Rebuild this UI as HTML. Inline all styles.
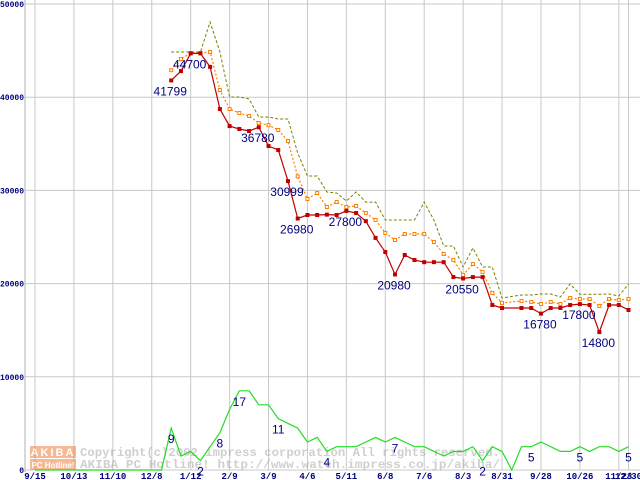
<!DOCTYPE html>
<html><head><meta charset="utf-8"><style>
html,body{margin:0;padding:0;background:#fff;}
svg{display:block;}
</style></head><body>
<svg id="chart" width="640" height="480" xmlns="http://www.w3.org/2000/svg" font-family="Liberation Sans, sans-serif"></svg>
<script>
const yTicks = [0,10000,20000,30000,40000,50000];
const xTickIdx = [0,4,8,12,16,20,24,28,32,36,40,44,48,52,56,60,61];
const xTickLabels = ["9/15","10/13","11/10","12/8","1/12","2/9","3/9","4/6","5/11","6/8","7/6","8/3","8/31","9/28","10/26","11/23","12/30"];
const N = 62;
const startIdx = 14;
const priceMin = [41799,42800,44700,44700,43250,38730,36900,36590,36370,36780,34760,34330,30999,26980,27360,27360,27400,27360,27800,27570,26700,24900,23390,20980,23070,22530,22300,22300,22300,20700,20550,20700,20700,17700,17380,null,17380,17380,16780,17380,17380,17700,17800,17700,14800,17700,17700,17170];
const priceAvg = [42900,44100,44740,44740,44850,40770,38730,38300,37980,37230,37000,36480,35300,31500,29080,29720,28220,28750,28220,28330,27570,26820,25430,24680,25320,25320,25320,24460,23180,22530,20920,22100,21240,18990,17920,null,18130,18030,17810,18030,17810,18450,18350,18350,17600,18350,18240,18350];
const priceMax = [44850,44850,44850,44850,48070,44850,40020,40020,39810,37880,37880,37660,37660,34010,31550,31550,29830,29720,28860,29830,28750,28750,26820,26820,26820,26820,28750,26820,24030,24030,21780,23820,21780,21780,18450,null,18780,18780,18880,18880,18560,19960,18850,18850,18850,18880,18670,19960];
const shopCount = [0,0,0,0,0,0,0,0,0,0,0,0,0,0,9,3,4,2,5,8,13,17,17,14,14,11,10,9,6,7,4,5,5,5,6,7,6,7,6,5,5,4,3,4,4,5,2,5,4,0,5,5,6,5,4,4,5,4,5,5,4,5];
const priceLabelIdx = [14,16,23,26,27,32,37,44,52,56,58];
const countLabelIdx = [14,17,19,21,25,30,37,46,51,56,61];

const NS="http://www.w3.org/2000/svg";
const svg=document.getElementById('chart');
function X(i){return 35+i*9.73;}
function Y(v){return 470-v*0.00932;}
function mk(tag,attrs,parent){const e=document.createElementNS(NS,tag);for(const k in attrs)e.setAttribute(k,attrs[k]);(parent||svg).appendChild(e);return e;}

const grid=mk('g',{});


yTicks.forEach(t=>{
  const l=mk('line',{x1:25,x2:640,y1:Y(t),y2:Y(t),stroke:'#c8c8c8','stroke-width':1},grid);
  
  
  const tx=mk('text',{x:24,y:Y(t)+3,'text-anchor':'end','font-size':8,'font-weight':'bold',fill:'#000080','font-family':'Liberation Mono, monospace'});
  tx.textContent=t;
  
  
});
xTickIdx.forEach((ix,k)=>{
  const l=mk('line',{x1:X(ix),x2:X(ix),y1:0,y2:470,stroke:'#c8c8c8','stroke-width':1},grid);
  
  
  const tx=mk('text',{x:X(ix),y:479,'text-anchor':'middle','font-size':9,'font-weight':'bold',fill:'#000080','font-family':'Liberation Mono, monospace'});
  tx.textContent=xTickLabels[k];
  
  
});
const ax=mk('line',{x1:25,x2:25,y1:0,y2:472,stroke:'#b0b0b0','stroke-width':1});



const wm=mk('g',{opacity:0.55});


mk('rect',{x:30,y:446,width:46,height:12,fill:'#f08040'},wm);
mk('rect',{x:30,y:459,width:46,height:11,fill:'#f08040'},wm);
const w1=mk('text',{x:53,y:456,'text-anchor':'middle','font-size':11,'font-weight':'bold',fill:'#fff','letter-spacing':2},wm);w1.textContent='AKIBA';
const w2=mk('text',{x:53,y:468,'text-anchor':'middle','font-size':8,'font-weight':'bold',fill:'#fff'},wm);w2.textContent='PC Hotline!';
const c1=mk('text',{x:80,y:456,'font-size':12,'font-weight':'bold',fill:'#a8a8a8','font-family':'Liberation Mono, monospace',textLength:420,lengthAdjust:'spacingAndGlyphs'},wm);c1.textContent='Copyright(c)2002 impress corporation All rights reserved.';
const c2=mk('text',{x:80,y:468,'font-size':12,'font-weight':'bold',fill:'#a8a8a8','font-family':'Liberation Mono, monospace',textLength:420,lengthAdjust:'spacingAndGlyphs'},wm);c2.textContent='AKIBA PC Hotline!  http://www.watch.impress.co.jp/akiba/';

function series(arr,offset,yfn,style,name){
  let d='';let pen=false;
  arr.forEach((v,k)=>{ if(v===null) return; const i=k+offset; d+=(pen?'L':'M')+X(i).toFixed(1)+' '+yfn(v).toFixed(1)+' '; pen=true;});
  const p=mk('path',Object.assign({d:d,fill:'none'},style));
  
  
  return p;
}
series(shopCount,0,c=>Y(c*500),{stroke:'#22dd22','stroke-width':1.2},'shop-count-line');
series(priceMax,startIdx,Y,{stroke:'#808000','stroke-width':1,'stroke-dasharray':'3,2'},'max-price-line');
series(priceAvg,startIdx,Y,{stroke:'#ff8000','stroke-width':1.2,'stroke-dasharray':'2,2'},'avg-price-line');
priceAvg.forEach((v,k)=>{ if(v===null) return;
  const r=mk('rect',{x:X(k+startIdx)-1.5,y:Y(v)-1.5,width:3,height:3,fill:'#fff',stroke:'#ff8000','stroke-width':1});
  
  
});
series(priceMin,startIdx,Y,{stroke:'#c00000','stroke-width':1.2},'min-price-line');
priceMin.forEach((v,k)=>{ if(v===null) return;
  const r=mk('rect',{x:X(k+startIdx)-2,y:Y(v)-2,width:4,height:4,fill:'#c00000'});
  
  
});
priceLabelIdx.forEach(i=>{
  const v=priceMin[i-startIdx];
  const t=mk('text',{x:X(i)-1,y:Y(v)+15,'text-anchor':'middle','font-size':12,fill:'#000080'});
  t.textContent=v;
  
  
});
countLabelIdx.forEach(i=>{
  const c=shopCount[i];
  const t=mk('text',{x:X(i),y:Y(c*500)+15,'text-anchor':'middle','font-size':12,fill:'#000080'});
  t.textContent=c;
  
  
});
</script>
</body></html>
